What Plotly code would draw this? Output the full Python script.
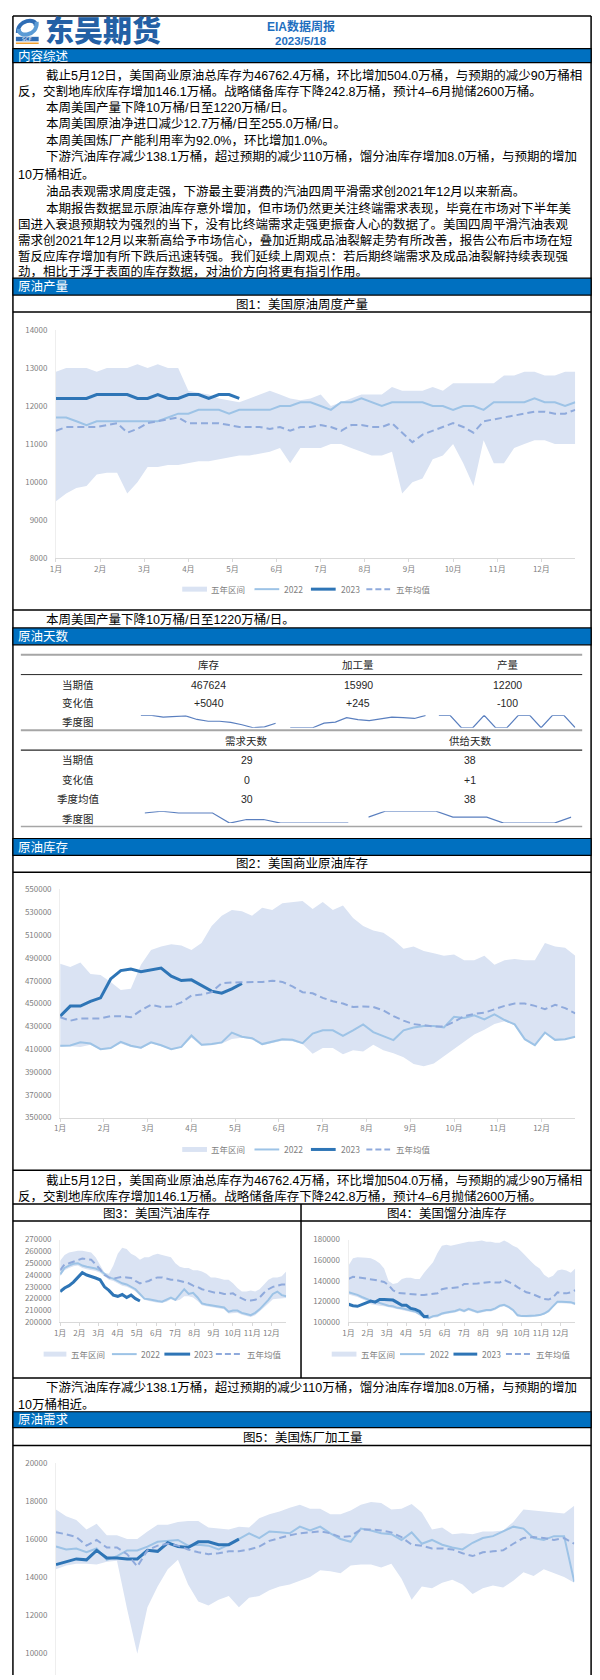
import plotly.graph_objects as go

# ---------------- data ----------------
months = ["1月", "2月", "3月", "4月", "5月", "6月", "7月", "8月", "9月", "10月", "11月", "12月"]
weeks = list(range(52))
weeks_2023 = list(range(19))

# 图1 美国原油周度产量
prod_upper = [12900, 13000, 13000, 13000, 12900, 13000, 13000, 13000, 13100, 13000, 13100, 13000, 13000,
              12400, 12350, 12300, 12200, 12150, 12100, 12200, 12300, 12400, 12300, 12200, 12150, 12200,
              12300, 12000, 12100, 12200, 12300, 12300, 12300, 12500, 12400, 12400, 12400, 12500, 12400,
              12600, 12600, 12600, 12600, 12600, 12800, 12800, 12900, 12900, 12800, 12800, 12900, 12900]
prod_lower = [9500, 9700, 9850, 9900, 10200, 10250, 10250, 9700, 10000, 10400, 10400, 10450, 10450,
              10500, 10550, 10550, 10600, 10650, 10700, 10700, 10750, 10800, 10900, 10500, 10900, 10900,
              10900, 11000, 11000, 10900, 10800, 10700, 10700, 10800, 9700, 10000, 10100, 10600, 10700,
              11000, 10500, 9900, 11100, 10500, 10500, 10900, 11000, 11100, 11100, 11000, 11000, 11000]
prod_2022 = [11700, 11700, 11600, 11500, 11600, 11600, 11600, 11600, 11600, 11600, 11600, 11700, 11800,
             11800, 11900, 11900, 11900, 11800, 11900, 11900, 11900, 11900, 12000, 12000, 12100, 12100,
             12000, 11900, 12100, 12100, 12200, 12100, 12000, 12100, 12100, 12100, 12100, 12000, 12000,
             11900, 12000, 12000, 11900, 12100, 12100, 12100, 12100, 12200, 12100, 12100, 12000, 12100]
prod_2023 = [12200, 12200, 12200, 12200, 12300, 12300, 12300, 12300, 12200, 12200, 12300, 12200, 12200,
             12300, 12300, 12200, 12300, 12300, 12200]
prod_avg = [11350, 11450, 11450, 11450, 11450, 11500, 11550, 11300, 11400, 11550, 11600, 11650, 11700,
            11550, 11550, 11550, 11550, 11500, 11450, 11450, 11450, 11400, 11450, 11350, 11450, 11450,
            11500, 11450, 11350, 11500, 11500, 11450, 11450, 11550, 11300, 11050, 11250, 11350, 11450,
            11550, 11450, 11300, 11600, 11650, 11700, 11750, 11800, 11850, 11850, 11800, 11800, 11900]

# 图2 美国商业原油库存
stock_upper = [485000, 482000, 486000, 476000, 475000, 469000, 462000, 463000, 484000, 497000, 500000, 502000,
               501000, 497000, 503000, 518000, 527000, 532000, 531000, 527000, 534000, 532000, 538000, 539000,
               540000, 533000, 539000, 532000, 536000, 525000, 518000, 514000, 512000, 506000, 498000, 500000,
               496000, 494000, 492000, 493000, 488000, 488000, 492000, 484000, 488000, 489000, 488000, 488000,
               503000, 500000, 499000, 492000]
stock_lower = [412000, 412500, 412000, 414000, 409500, 410500, 415000, 412000, 410500, 415000, 412500, 409500,
               411500, 420000, 413000, 413500, 415000, 419000, 420000, 418500, 413500, 415500, 417500, 417000,
               414500, 406000, 411000, 411000, 405500, 409000, 408000, 414000, 409000, 406500, 403000, 397000,
               395000, 397500, 404000, 410000, 417000, 423000, 427000, 432000, 434500, 431000, 418000, 413000,
               424000, 418000, 418500, 420500]
stock_2022 = [413000, 413300, 416000, 415000, 410000, 411000, 416500, 413000, 411300, 416000, 413500, 410000,
              412000, 422000, 414000, 414500, 416000, 424600, 421000, 419700, 414500, 416800, 418800, 418200,
              415300, 423700, 426600, 426600, 421700, 426600, 431800, 425000, 421700, 418000, 426600, 429000,
              430400, 430400, 429000, 438500, 437400, 439700, 436200, 440600, 435600, 431800, 418800, 413600,
              424600, 418200, 418800, 421000]
stock_2023 = [439000, 447800, 447800, 452000, 455000, 471600, 478900, 480300, 478000, 479700, 481200, 474000,
              470200, 470800, 465800, 460900, 459100, 462900, 467624]
stock_avg = [438000, 435000, 437000, 437000, 437000, 439000, 439000, 438000, 444000, 449000, 447000, 447500,
             451000, 457000, 458000, 460000, 468000, 468500, 468500, 469000, 469000, 470000, 469000, 465000,
             460000, 459000, 455000, 452000, 450000, 447000, 447500, 447000, 444000, 439000, 435000, 432000,
             431000, 430000, 430000, 434000, 439000, 441000, 442000, 445000, 448000, 450000, 450000, 448000,
             445000, 449000, 446000, 441500]

# 图3 美国汽油库存
gas_upper = [252000, 257000, 259000, 260000, 260500, 260500, 260000, 259000, 255000, 248000, 242000, 241000,
             248000, 258000, 263000, 262000, 258000, 256000, 253000, 255000, 255000, 257000, 258000, 257000,
             256000, 255000, 250000, 247000, 246000, 246000, 244000, 244000, 243000, 241000, 238000, 238000,
             237000, 236000, 236000, 233000, 229000, 226000, 226000, 227000, 226000, 228000, 232000, 236000,
             238000, 238000, 239000, 243000]
gas_lower = [239000, 244000, 246000, 247500, 248000, 246000, 245000, 244500, 243500, 242000, 239000, 236000,
             235000, 233000, 231000, 230000, 228500, 226000, 222500, 219000, 218000, 217000, 216500, 216500,
             217500, 219500, 218000, 219000, 222000, 222000, 221000, 218000, 214500, 213500, 213000, 212500,
             211500, 211000, 207500, 208000, 208000, 206500, 205500, 204500, 206000, 209000, 212500, 216000,
             219500, 220000, 220000, 220500]
gas_2022 = [240600, 246000, 248000, 249500, 250000, 248000, 247000, 246500, 245500, 244000, 241000, 238000,
            237000, 235000, 233000, 232000, 230000, 228000, 224000, 220000, 219500, 218500, 218000, 217500,
            219000, 221000, 219000, 224000, 228000, 224000, 225000, 221000, 216000, 215000, 214500, 214000,
            213000, 212500, 209000, 210000, 210000, 208000, 207000, 206000, 208000, 211000, 215000, 219000,
            224000, 226000, 223000, 222000]
gas_2023 = [226000, 229000, 231000, 234000, 238000, 242000, 240000, 239000, 237500, 236000, 230000, 227000,
            223000, 222000, 223500, 221000, 223000, 220000, 218000]
gas_avg = [244000, 249000, 250000, 251500, 253000, 254000, 253500, 253000, 249000, 245000, 240000, 238000,
           237000, 238000, 238500, 238000, 237500, 235000, 233000, 234000, 235000, 237000, 238000, 238000,
           237000, 236000, 236000, 235000, 234000, 233000, 231000, 230000, 228000, 227000, 226000, 225000,
           225000, 224000, 224000, 224500, 222000, 220000, 218500, 218500, 219000, 221000, 225000, 228000,
           230000, 231000, 232000, 232000]

# 图4 美国馏分油库存
dist_upper = [155000, 162000, 163000, 163000, 162500, 162000, 160000, 157000, 152000, 140000, 137000, 138000,
              142000, 143000, 143000, 142000, 142000, 148000, 153000, 158000, 167000, 174000, 175000, 174000,
              175000, 176000, 177000, 178000, 178000, 178500, 179000, 178000, 178000, 177000, 177000, 179000,
              177000, 174000, 172000, 168000, 163000, 159000, 155000, 152000, 146000, 143000, 145000, 150000,
              151000, 150000, 148000, 152000]
dist_lower = [127000, 126000, 124500, 122500, 120500, 117500, 116500, 116000, 115500, 114500, 113500, 112500,
              112000, 111000, 110000, 109000, 106500, 104000, 103000, 104500, 105000, 107000, 108000, 108500,
              109500, 111000, 109500, 111500, 110000, 108500, 109500, 110500, 110500, 112000, 114500, 115500,
              113500, 110500, 105500, 105000, 105000, 105000, 105500, 106000, 107500, 109500, 114500, 118500,
              118500, 118500, 118000, 116500]
dist_2022 = [129000, 128000, 126500, 124500, 122500, 121000, 120000, 118500, 117000, 116000, 115500, 114000,
             113500, 112500, 111500, 110500, 108000, 105500, 104000, 106000, 106500, 108500, 109500, 110000,
             111000, 112500, 111000, 113000, 111500, 110000, 111000, 112000, 112000, 113500, 116000, 117000,
             115000, 112000, 107000, 106000, 106000, 106000, 106500, 107000, 108500, 111000, 116000, 120000,
             120000, 120000, 119500, 118000]
dist_2023 = [117500, 116000, 115500, 117000, 119000, 120500, 119500, 122000, 122000, 122000, 121500, 119000,
             116500, 116500, 113500, 112500, 110500, 105500, 105800]
dist_avg = [142000, 144000, 143500, 143000, 142000, 141500, 141000, 140000, 139000, 136000, 131000, 128500,
            128000, 128000, 127500, 127000, 126500, 126500, 127000, 127500, 128000, 132000, 133000, 133000,
            133500, 134000, 137000, 137000, 137000, 137500, 138000, 138500, 139000, 138500, 138500, 141000,
            139000, 137000, 134000, 131500, 129000, 128000, 126000, 124000, 122500, 122000, 124000, 129000,
            128000, 128000, 129000, 131000]

# 图5 美国炼厂加工量
ref_upper = [17550, 17200, 17000, 16500, 16800, 16200, 16200, 16000, 16000, 16400, 16750, 16750, 16900,
             16950, 16950, 16600, 16550, 16500, 16650, 16600, 17100, 17300, 17450, 17650, 17800, 17600,
             17600, 17300, 17300, 17500, 17800, 17950, 17900, 17550, 17600, 17850, 17400, 16500, 16600,
             16250, 16300, 16250, 16400, 16400, 16450, 16900, 17550, 17500, 17450, 17400, 17350, 17750]
ref_lower = [14400, 14600, 14700, 14700, 14650, 14800, 14850, 12300, 9950, 12400, 13500, 14400, 14900,
             13600, 12700, 12500, 12800, 13000, 12400, 12900, 13000, 13300, 13500, 13600, 13800, 14000,
             14350, 14300, 14200, 14600, 14650, 14650, 14500, 14700, 13900, 12800, 13500, 13400, 13700,
             13850, 13600, 13100, 13400, 13550, 13450, 13800, 14250, 14050, 14400, 14200, 14000, 13700]
ref_2022 = [15600, 15450, 15500, 15300, 15500, 14900, 15100, 15400, 15400, 15600, 15850, 15900, 15950,
            15650, 15700, 15650, 15450, 15700, 16000, 16300, 16050, 16400, 16350, 16300, 16650, 16450,
            16650, 16300, 16000, 15850, 16550, 16450, 16300, 16250, 15950, 16350, 15750, 15950, 15700,
            15550, 15450, 15800, 16050, 16150, 16400, 16650, 16550, 16050, 15950, 16150, 16150, 13750]
ref_2023 = [14650, 14800, 14950, 14900, 15400, 15000, 15000, 14950, 14950, 15400, 15350, 15800, 15600,
            15550, 15850, 15850, 15700, 15700, 15990]
ref_avg = [16350, 16250, 16100, 15650, 15950, 15550, 15550, 15200, 14550, 15400, 15650, 15750, 15650,
           15450, 15300, 15200, 15250, 15350, 15350, 15450, 15600, 15900, 16050, 16200, 16300, 16350,
           16400, 16300, 16100, 16150, 16500, 16500, 16450, 16350, 16100, 15700, 15650, 15500, 15500,
           15450, 15250, 15100, 15300, 15350, 15400, 15750, 16050, 16100, 16050, 15950, 16050, 15750]

# 原油天数 table
table_heads = ["库存", "加工量", "产量"]
table_current = ["467624", "15990", "12200"]
table_change = ["+5040", "+245", "-100"]
days_heads = ["需求天数", "供给天数"]
days_current = ["29", "38"]
days_change = ["0", "+1"]
days_season_avg = ["30", "38"]
spark_x = list(range(13))
spark_stock = [481000, 481000, 478000, 479500, 480000, 474000, 471000, 471000, 469000, 465000, 460000, 461500, 467600]
spark_run = [15000, 15000, 15000, 15370, 15450, 15800, 15650, 15570, 15740, 15850, 15800, 15740, 15990]
spark_prod = [12300, 12300, 12200, 12200, 12300, 12200, 12200, 12300, 12300, 12200, 12300, 12300, 12200]
spark_demand_days = [30.7, 31, 30.7, 30.7, 30.7, 29, 29.6, 29.6, 29, 29, 29, 29, 29]
spark_supply_days = [38, 39, 39, 39, 39, 38, 38, 38, 37, 37, 37, 37, 38]

legend_names = ["五年区间", "2022", "2023", "五年均值"]

summary_lines = [
    "截止5月12日，美国商业原油总库存为46762.4万桶，环比增加504.0万桶，与预期的减少90万桶相",
    "反，交割地库欣库存增加146.1万桶。战略储备库存下降242.8万桶，预计4–6月抛储2600万桶。",
    "本周美国产量下降10万桶/日至1220万桶/日。",
    "本周美国原油净进口减少12.7万桶/日至255.0万桶/日。",
    "本周美国炼厂产能利用率为92.0%，环比增加1.0%。",
    "下游汽油库存减少138.1万桶，超过预期的减少110万桶，馏分油库存增加8.0万桶，与预期的增加",
    "10万桶相近。",
    "油品表观需求周度走强，下游最主要消费的汽油四周平滑需求创2021年12月以来新高。",
    "本期报告数据显示原油库存意外增加，但市场仍然更关注终端需求表现，毕竟在市场对下半年美",
    "国进入衰退预期较为强烈的当下，没有比终端需求走强更振奋人心的数据了。美国四周平滑汽油表观",
    "需求创2021年12月以来新高给予市场信心，叠加近期成品油裂解走势有所改善，报告公布后市场在短",
    "暂反应库存增加有所下跌后迅速转强。我们延续上周观点：若后期终端需求及成品油裂解持续表现强",
    "劲，相比于浮于表面的库存数据，对油价方向将更有指引作用。",
]
prod_note = "本周美国产量下降10万桶/日至1220万桶/日。"
stock_note = [
    "截止5月12日，美国商业原油总库存为46762.4万桶，环比增加504.0万桶，与预期的减少90万桶相",
    "反，交割地库欣库存增加146.1万桶。战略储备库存下降242.8万桶，预计4–6月抛储2600万桶。",
]
product_note = [
    "下游汽油库存减少138.1万桶，超过预期的减少110万桶，馏分油库存增加8.0万桶，与预期的增加",
    "10万桶相近。",
]

# ---------------- helpers ----------------
W, H = 600, 1680
FONT = "Liberation Sans, Noto Sans CJK SC"
AXFONT = "Noto Sans CJK SC"
C_BAND = "#dae3f3"
C_2022 = "#9dc3e6"
C_2023 = "#2e75b6"
C_AVG = "#8faadc"
C_BAR = "#0070c0"
C_AX = "#7f7f7f"


def px(x):
    return x / W


def py(y):
    return 1 - y / H


fig = go.Figure()
shapes = []
annotations = []
axes = {}
count = [0]


def new_axes(x0, x1, ytop, ybot, xrange, yrange, ytickvals=None, xticks=True, spark=False):
    count[0] += 1
    n = count[0]
    sx = "" if n == 1 else str(n)
    xa = dict(domain=[px(x0), px(x1)], range=xrange, anchor="y" + sx, showgrid=False,
              zeroline=False, fixedrange=True)
    ya = dict(domain=[py(ybot), py(ytop)], range=yrange, anchor="x" + sx, showgrid=False,
              zeroline=False, fixedrange=True)
    if spark:
        xa.update(visible=False)
        ya.update(visible=False)
    else:
        if xticks:
            xa.update(tickmode="array", tickvals=[m * 52 / 12 for m in range(12)], ticktext=months,
                      showline=True, linecolor="#d9d9d9", linewidth=1, ticks="outside", ticklen=3,
                      tickcolor="#d9d9d9", tickfont=dict(family=AXFONT, size=8, color=C_AX))
        else:
            xa.update(showticklabels=False, showline=False, ticks="")
        ya.update(tickmode="array", tickvals=ytickvals, ticktext=[str(v) for v in ytickvals],
                  ticks="", showline=True, linecolor="#eeeeee", linewidth=1,
                  tickfont=dict(family=AXFONT, size=8, color=C_AX), ticklabelstandoff=6)
    axes["xaxis" + sx] = xa
    axes["yaxis" + sx] = ya
    return "x" + sx, "y" + sx


def season_chart(xr, yr, upper, lower, l2022, l2023, avg, w2023=3):
    kw = dict(xaxis=xr, yaxis=yr, showlegend=False, hoverinfo="skip", mode="lines")
    fig.add_trace(go.Scatter(x=weeks, y=lower, line=dict(width=0, color=C_BAND), **kw))
    fig.add_trace(go.Scatter(x=weeks, y=upper, line=dict(width=0, color=C_BAND), fill="tonexty",
                             fillcolor=C_BAND, **kw))
    fig.add_trace(go.Scatter(x=weeks, y=l2022, line=dict(width=2, color=C_2022), **kw))
    fig.add_trace(go.Scatter(x=weeks_2023, y=l2023, line=dict(width=w2023, color=C_2023), **kw))
    fig.add_trace(go.Scatter(x=weeks, y=avg, line=dict(width=2, color=C_AVG, dash="7px,4px"), **kw))


def text(x, y, s, size=12.5, color="black", anchor="left", weight=None, family=FONT):
    f = dict(family=family, size=size, color=color)
    if weight:
        f["weight"] = weight
    annotations.append(dict(x=px(x), y=py(y), xref="paper", yref="paper", text=s, showarrow=False,
                            xanchor=anchor, yanchor="middle", font=f))


def hline(y, x0=7, x1=591, color="black", width=1.5):
    shapes.append(dict(type="line", xref="paper", yref="paper", x0=px(x0), x1=px(x1), y0=py(y), y1=py(y),
                       line=dict(color=color, width=width)))


def vline(x, y0, y1, color="black", width=1.5):
    shapes.append(dict(type="line", xref="paper", yref="paper", x0=px(x), x1=px(x), y0=py(y0), y1=py(y1),
                       line=dict(color=color, width=width)))


def bar(y0, y1, label):
    shapes.append(dict(type="rect", xref="paper", yref="paper", x0=px(7), x1=px(591), y0=py(y1), y1=py(y0),
                       fillcolor=C_BAR, line=dict(color="black", width=1.2)))
    text(10, (y0 + y1) / 2 + 0.5, label, size=12.5, color="white")


def legend(yc, items):
    (s0, s1, t0), (a0, a1, ta), (b0, b1, tb), (c0, c1, tc) = items
    shapes.append(dict(type="rect", xref="paper", yref="paper", x0=px(s0), x1=px(s1), y0=py(yc + 2.5),
                       y1=py(yc - 2.5), fillcolor=C_BAND, line=dict(width=0)))
    shapes.append(dict(type="line", xref="paper", yref="paper", x0=px(a0), x1=px(a1), y0=py(yc), y1=py(yc),
                       line=dict(color=C_2022, width=2)))
    shapes.append(dict(type="line", xref="paper", yref="paper", x0=px(b0), x1=px(b1), y0=py(yc), y1=py(yc),
                       line=dict(color=C_2023, width=3)))
    shapes.append(dict(type="line", xref="paper", yref="paper", x0=px(c0), x1=px(c1), y0=py(yc), y1=py(yc),
                       line=dict(color=C_AVG, width=2, dash="6px,3px")))
    for xx, name in zip([t0, ta, tb, tc], legend_names):
        text(xx, yc, name, size=8.5, color=C_AX, family=AXFONT)


# ---------------- header ----------------
hline(10)
vline(7, 10, 1680)
vline(591, 10, 1680)
# logo
shapes.append(dict(type="path", xref="paper", yref="paper",
                   path=f"M {px(12)},{py(27)} C {px(11)},{py(14)} {px(31)},{py(11)} {px(30)},{py(20)}",
                   line=dict(color="#2f6db5", width=4)))
shapes.append(dict(type="path", xref="paper", yref="paper",
                   path=f"M {px(31)},{py(16)} C {px(32)},{py(31)} {px(12)},{py(32)} {px(13)},{py(23)}",
                   line=dict(color="#5b9bd5", width=4)))
shapes.append(dict(type="rect", xref="paper", yref="paper", x0=px(10), x1=px(33), y0=py(35.5), y1=py(31),
                   fillcolor="#2f6db5", line=dict(width=0)))
text(21.5, 33.3, "SCF", size=5, color="white", anchor="center", family="DejaVu Sans")
shapes.append(dict(type="line", xref="paper", yref="paper", x0=px(10), x1=px(33), y0=py(37.5), y1=py(37.5),
                   line=dict(color="#f0a030", width=1.5)))
text(37, 25.5, "东吴期货", size=29, color="#2360a5", weight=900)
text(298, 21, "EIA数据周报", size=12, color="#1f6fbf", anchor="center", weight="bold")
text(298, 35.5, "2023/5/18", size=11.5, color="#1f6fbf", anchor="center", weight="bold")

# ---------------- 内容综述 ----------------
bar(43, 57, "内容综述")
line_y = [70, 86, 102, 118.5, 135, 151.3, 169.5, 186.5, 203.5, 220, 236, 252, 267.5]
indent = [38, 10.5, 38, 38, 38, 38, 10.5, 38, 38, 10.5, 10.5, 10.5, 10.5]
for s, yy, xx in zip(summary_lines, line_y, indent):
    text(xx, yy, s)

# ---------------- 原油产量 ----------------
bar(274, 291, "原油产量")
text(299, 300, "图1：美国原油周度产量", size=12.5, anchor="center")
hline(308)
xr, yr = new_axes(50.5, 575, 326, 556, [0, 51], [8000, 14000], list(range(8000, 14001, 1000)))
season_chart(xr, yr, prod_upper, prod_lower, prod_2022, prod_2023, prod_avg)
legend(587, [(178, 203, 205), (251, 276, 279), (308, 333, 336), (364, 388, 392)])
hline(608)
text(38, 617.5, prod_note)

# ---------------- 原油天数 ----------------
bar(626, 643, "原油天数")
hline(653, 15, 582, color="#a6a6a6", width=2)
hline(673, 15, 582, color="#262626", width=1)
hline(729, 15, 582, color="#a6a6a6", width=2)
hline(749, 15, 582, color="#262626", width=1.2)
hline(826, 15, 582, color="#a6a6a6", width=1.5)
TC = "#262626"
col_x = [205, 356, 507]
for xx, h, c, d in zip(col_x, table_heads, table_current, table_change):
    text(xx, 663, h, size=10.5, color=TC, anchor="center")
    text(xx, 683, c, size=10.5, color=TC, anchor="center")
    text(xx, 702, d, size=10.5, color=TC, anchor="center")
for yy, lab in zip([683, 702, 721], ["当期值", "变化值", "季度图"]):
    text(73, yy, lab, size=10.5, color=TC, anchor="center")
dcol_x = [243, 469]
for xx, h, c, d, a in zip(dcol_x, days_heads, days_current, days_change, days_season_avg):
    text(xx, 740, h, size=10.5, color=TC, anchor="center")
    text(xx, 759, c, size=10.5, color=TC, anchor="center")
    text(xx, 779, d, size=10.5, color=TC, anchor="center")
    text(xx, 798, a, size=10.5, color=TC, anchor="center")
for yy, lab in zip([759, 779, 798, 818], ["当期值", "变化值", "季度均值", "季度图"]):
    text(73, yy, lab, size=10.5, color=TC, anchor="center")

SPARK = "#5a7fbf"
for (x0, x1, y0, y1), vals in zip(
        [(136, 272.5, 714, 726.5), (287, 424, 714, 726.5), (437, 575, 714, 726.5),
         (140, 346, 810.5, 822.5), (366, 571, 810.5, 822.5)],
        [spark_stock, spark_run, spark_prod, spark_demand_days, spark_supply_days]):
    xs, ys = new_axes(x0, x1, y0, y1, [0, 12], [min(vals), max(vals)], spark=True)
    fig.add_trace(go.Scatter(x=spark_x, y=vals, mode="lines", line=dict(color=SPARK, width=1.2),
                             xaxis=xs, yaxis=ys, showlegend=False, hoverinfo="skip", cliponaxis=False))

# ---------------- 原油库存 ----------------
bar(838, 855, "原油库存")
text(299, 863.5, "图2：美国商业原油库存", size=12.5, anchor="center")
hline(872)
xr, yr = new_axes(54.7, 575, 889.3, 1119, [0, 51], [350000, 550000], list(range(350000, 550001, 20000)))
season_chart(xr, yr, stock_upper, stock_lower, stock_2022, stock_2023, stock_avg)
legend(1151, [(178, 203, 205), (251, 276, 279), (308, 333, 336), (364, 388, 392)])
hline(1172)
text(38, 1182.5, stock_note[0])
text(10.5, 1198.5, stock_note[1])

# ---------------- 汽油 / 馏分油 ----------------
hline(1206)
text(152.5, 1215, "图3：美国汽油库存", size=12.5, anchor="center")
text(444.5, 1215, "图4：美国馏分油库存", size=12.5, anchor="center")
hline(1223)
vline(298, 1206, 1381)
xr, yr = new_axes(54.7, 283, 1241.7, 1325, [0, 51], [200000, 270000], list(range(200000, 270001, 10000)))
season_chart(xr, yr, gas_upper, gas_lower, gas_2022, gas_2023, gas_avg)
legend(1357, [(38, 61, 64), (107, 132, 134), (160, 186, 188), (212, 237, 241)])
xr, yr = new_axes(346, 575, 1241.7, 1325, [0, 51], [100000, 180000], list(range(100000, 180001, 20000)))
season_chart(xr, yr, dist_upper, dist_lower, dist_2022, dist_2023, dist_avg)
legend(1357, [(329, 354, 357), (398, 423, 426), (452, 476, 479), (505, 530, 533)])
hline(1381)
text(38, 1391, product_note[0])
text(10.5, 1408, product_note[1])

# ---------------- 原油需求 ----------------
bar(1415, 1431, "原油需求")
text(299, 1441, "图5：美国炼厂加工量", size=12.5, anchor="center")
hline(1449)
xr, yr = new_axes(50.5, 574, 1466.7, 1680, [0, 51], [8832, 20000], list(range(10000, 20001, 2000)),
                  xticks=False)
season_chart(xr, yr, ref_upper, ref_lower, ref_2022, ref_2023, ref_avg)

fig.update_layout(width=W, height=H, margin=dict(l=0, r=0, t=0, b=0), paper_bgcolor="white",
                  plot_bgcolor="rgba(0,0,0,0)", showlegend=False, font=dict(family=FONT),
                  shapes=shapes, annotations=annotations, **axes)

fig.write_html("out.html", config={"displayModeBar": False, "staticPlot": True},
               post_script="document.body.style.margin='0px';document.body.style.overflow='hidden';")
